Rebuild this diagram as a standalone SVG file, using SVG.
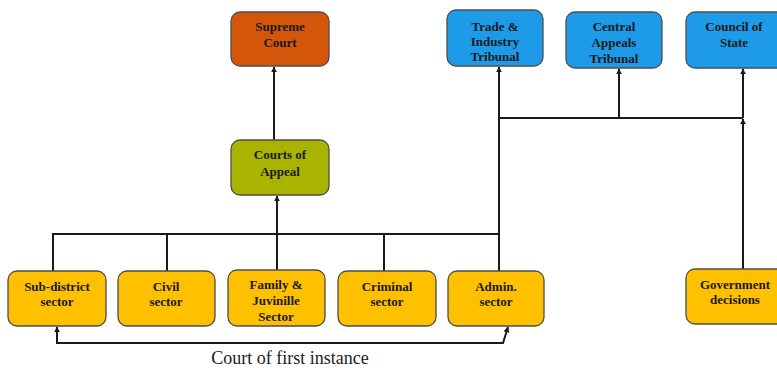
<svg xmlns="http://www.w3.org/2000/svg" width="777" height="368" viewBox="0 0 777 368">
<defs>
<style>
.box{stroke:#4d4d4d;stroke-width:1.3}
.red{fill:#D4560A}
.green{fill:#A8B400}
.blue{fill:#1E9BE8}
.yellow{fill:#FFC000}
.t{font-family:"Liberation Serif","Times New Roman",serif;font-weight:bold;font-size:13px;fill:#1a1a1a;text-anchor:middle}
.c{fill:none;stroke:#1a1a1a;stroke-width:2}
.cap{font-family:"Liberation Serif","Times New Roman",serif;font-size:18px;fill:#1a1a1a;text-anchor:middle}
</style>
<marker id="ah" viewBox="0 0 10 10" refX="9" refY="5" markerWidth="6" markerHeight="7" markerUnits="userSpaceOnUse" orient="auto-start-reverse">
<path d="M0,0 L10,5 L0,10 z" fill="#1a1a1a"/>
</marker>
</defs>
<rect width="777" height="368" fill="#ffffff"/>

<g id="connectors">
<path class="c" d="M274 140 V67" marker-end="url(#ah)"/>
<path class="c" d="M53 271 V234 H499"/>
<path class="c" d="M167 234 V271"/>
<path class="c" d="M384 234 V271"/>
<path class="c" d="M277 271 V196" marker-end="url(#ah)"/>
<path class="c" d="M499 271 V67" marker-end="url(#ah)"/>
<path class="c" d="M499 118 H743"/>
<path class="c" d="M619 118 V69" marker-end="url(#ah)"/>
<path class="c" d="M743 118 V69" marker-end="url(#ah)"/>
<path class="c" d="M743 269 V119" marker-end="url(#ah)"/>
<path class="c" d="M57 327 V343 H503 L508 327" marker-start="url(#ah)" marker-end="url(#ah)"/>
</g>

<g id="supreme">
<rect class="box red" x="231" y="12" width="98" height="54" rx="9"/>
<text class="t" x="280" y="31">Supreme</text>
<text class="t" x="280" y="47">Court</text>
</g>
<g id="appeal">
<rect class="box green" x="231" y="140" width="98" height="55" rx="9"/>
<text class="t" x="280" y="159">Courts of</text>
<text class="t" x="280" y="176">Appeal</text>
</g>
<g id="trade">
<rect class="box blue" x="447" y="10" width="96" height="56" rx="9"/>
<text class="t" x="495" y="31">Trade &amp;</text>
<text class="t" x="495" y="46">Industry</text>
<text class="t" x="495" y="61">Tribunal</text>
</g>
<g id="central">
<rect class="box blue" x="566" y="12" width="96" height="56" rx="9"/>
<text class="t" x="614" y="31">Central</text>
<text class="t" x="614" y="47">Appeals</text>
<text class="t" x="614" y="63">Tribunal</text>
</g>
<g id="council">
<rect class="box blue" x="686" y="12" width="100" height="56" rx="9"/>
<text class="t" x="734" y="31">Council of</text>
<text class="t" x="734" y="47">State</text>
</g>
<g id="subdistrict">
<rect class="box yellow" x="8" y="271" width="98" height="55" rx="9"/>
<text class="t" x="57" y="291">Sub-district</text>
<text class="t" x="57" y="306">sector</text>
</g>
<g id="civil">
<rect class="box yellow" x="118" y="271" width="97" height="55" rx="9"/>
<text class="t" x="166" y="291">Civil</text>
<text class="t" x="166" y="306">sector</text>
</g>
<g id="family">
<rect class="box yellow" x="228" y="270" width="97" height="56" rx="9"/>
<text class="t" x="276" y="289">Family &amp;</text>
<text class="t" x="276" y="305">Juvinille</text>
<text class="t" x="276" y="321">Sector</text>
</g>
<g id="criminal">
<rect class="box yellow" x="338" y="271" width="98" height="55" rx="9"/>
<text class="t" x="387" y="291">Criminal</text>
<text class="t" x="387" y="306">sector</text>
</g>
<g id="admin">
<rect class="box yellow" x="448" y="271" width="96" height="55" rx="9"/>
<text class="t" x="496" y="291">Admin.</text>
<text class="t" x="496" y="306">sector</text>
</g>
<g id="government">
<rect class="box yellow" x="686" y="269" width="100" height="55" rx="9"/>
<text class="t" x="735" y="289">Government</text>
<text class="t" x="735" y="304">decisions</text>
</g>
<text class="cap" x="290" y="364">Court of first instance</text>
</svg>
